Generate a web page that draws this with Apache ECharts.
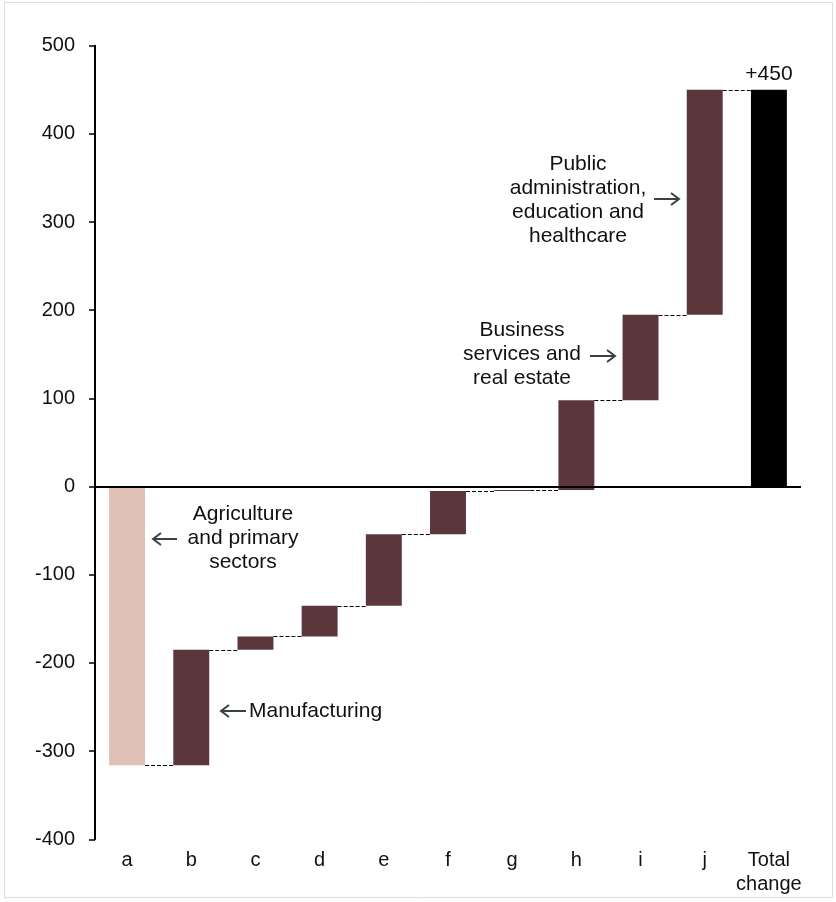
<!DOCTYPE html>
<html>
<head>
<meta charset="utf-8">
<script src="https://cdn.jsdelivr.net/npm/echarts@6/dist/echarts.min.js"></script>
<style>
  html, body { margin: 0; padding: 0; background: #fff; }
  #chart { width: 836px; height: 902px; }
</style>
</head>
<body>
<div id="chart"></div>
<script>
// Sector contributions to the total change (waterfall steps)
const categories = ['a', 'b', 'c', 'd', 'e', 'f', 'g', 'h', 'i', 'j', 'Total\nchange'];
const changes = [-316, 131, 15, 35, 81, 49, 1, 102, 97, 255];
const totalChange = 450;
const yTicks = { min: -400, max: 500, step: 100 };

const FIRST_COLOR = '#e0c1b5';
const STEP_COLOR = '#5b373b';
const TOTAL_COLOR = '#000000';
const FONT = "'Liberation Sans', Arial, sans-serif";

// Build [index, start, end] triples from the running sum
const steps = [];
let running = 0;
changes.forEach((v, i) => {
  steps.push([i, running, running + v]);
  running += v;
});
steps.push([changes.length, 0, totalChange]);

const chart = echarts.init(document.getElementById('chart'), null, { renderer: 'canvas' });

function renderStep(params, api) {
  const idx = params.dataIndex;
  const i = api.value(0);
  const start = api.value(1);
  const end = api.value(2);
  const p0 = api.coord([i, start]);
  const p1 = api.coord([i, end]);
  const band = api.size([1, 0])[0];
  const w = band * 0.56;
  let fill = STEP_COLOR;
  if (idx === 0) fill = FIRST_COLOR;
  if (idx === steps.length - 1) fill = TOTAL_COLOR;
  const children = [{
    type: 'rect',
    shape: { x: p0[0] - w / 2, y: Math.min(p0[1], p1[1]), width: w, height: Math.abs(p1[1] - p0[1]) },
    style: { fill: fill }
  }];
  if (idx < steps.length - 1) {
    const ly = Math.round(p1[1]) + 0.5;
    children.push({
      type: 'line',
      shape: { x1: p0[0] + w / 2, y1: ly, x2: p0[0] + band - w / 2, y2: ly },
      style: { stroke: '#000', lineWidth: 1, lineDash: [4, 2] }
    });
  }
  return { type: 'group', children: children };
}

// Annotation arrows: shaft plus two head strokes
function arrow(x1, x2, y) {
  const dir = x2 > x1 ? 1 : -1;
  const hx = x2 - dir * 8;
  return {
    type: 'group',
    children: [
      { type: 'line', shape: { x1: x1, y1: y, x2: x2, y2: y }, style: { stroke: '#3a4145', lineWidth: 2 } },
      { type: 'polyline', shape: { points: [[hx, y - 6], [x2, y], [hx, y + 6]] }, style: { stroke: '#3a4145', lineWidth: 2, fill: null } }
    ]
  };
}

function note(text, x, y, align) {
  return {
    type: 'text',
    x: x, y: y,
    style: {
      text: text, fill: '#111', font: '21px ' + FONT,
      align: align || 'center', verticalAlign: 'middle', lineHeight: 24
    }
  };
}

const option = {
  animation: false,
  backgroundColor: '#ffffff',
  grid: { left: 95, right: 35, top: 45.7, bottom: 62.7, containLabel: false },
  xAxis: {
    type: 'category',
    data: categories,
    axisLine: { show: false },
    axisTick: { show: false },
    axisLabel: { color: '#111', fontSize: 20, fontFamily: FONT, margin: 9, lineHeight: 24, interval: 0 }
  },
  yAxis: {
    type: 'value',
    min: yTicks.min, max: yTicks.max, interval: yTicks.step,
    axisLine: { show: true, lineStyle: { color: '#000', width: 2 } },
    axisTick: { show: true, length: 6, lineStyle: { color: '#000', width: 1.5 } },
    axisLabel: { color: '#111', fontSize: 20, fontFamily: FONT, margin: 20 },
    splitLine: { show: false }
  },
  series: [{
    type: 'custom',
    renderItem: renderStep,
    encode: { x: 0, y: [1, 2] },
    data: steps,
    markLine: {
      silent: true,
      symbol: ['none', 'none'],
      label: { show: false },
      lineStyle: { color: '#000', width: 2, type: 'solid' },
      data: [{ yAxis: 0 }]
    },
    z: 2
  }]
};

chart.setOption(option);

// Value label above the total bar, positioned from the axis scale
const topPt = chart.convertToPixel({ seriesIndex: 0 }, [categories.length - 1, totalChange]);

chart.setOption({
  graphic: [
    { type: 'rect', shape: { x: 4.5, y: 2.5, width: 828, height: 895 }, style: { fill: null, stroke: '#dcdcdc', lineWidth: 1 }, z: 0 },
    note('+' + totalChange, topPt[0], topPt[1] - 16),
    note('Agriculture\nand primary\nsectors', 243, 538),
    arrow(177, 153, 539),
    arrow(246, 221, 711),
    note('Manufacturing', 249, 711, 'left'),
    note('Business\nservices and\nreal estate', 522, 354),
    arrow(590, 615, 356),
    note('Public\nadministration,\neducation and\nhealthcare', 578, 200),
    arrow(654, 679, 199)
  ]
});
</script>
</body>
</html>
